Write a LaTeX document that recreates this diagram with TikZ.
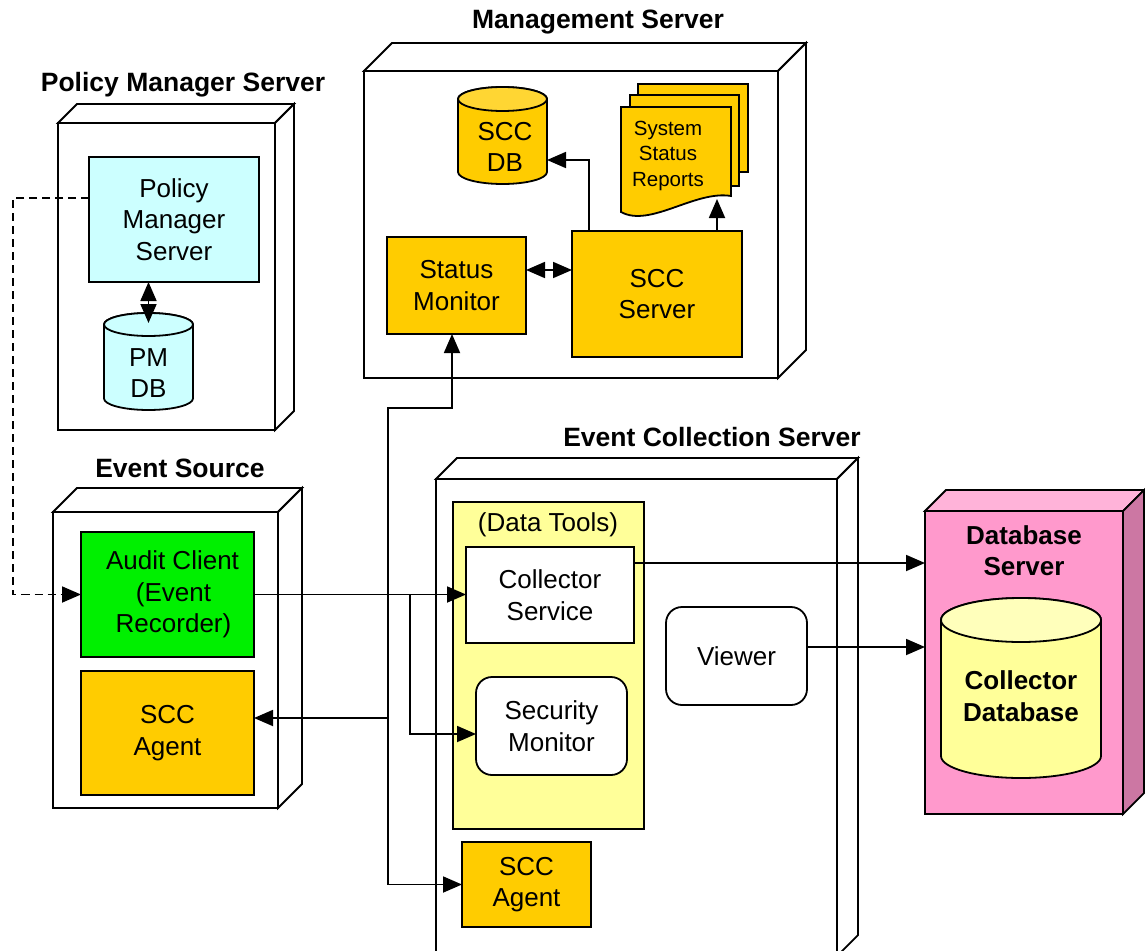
\documentclass[tikz,border=0pt]{standalone}
\usepackage{fontspec}
\setmainfont{Liberation Sans}
\usetikzlibrary{arrows.meta}

\definecolor{pmcyan}{HTML}{CCFFFF}
\definecolor{sccorange}{HTML}{FFCC00}
\definecolor{sccorangelid}{HTML}{FFD633}
\definecolor{auditgreen}{HTML}{00F000}
\definecolor{tooltint}{HTML}{FFFF99}
\definecolor{tooltintlid}{HTML}{FFFFBB}
\definecolor{dbpink}{HTML}{FF99CC}
\definecolor{dbpinktop}{HTML}{FFB3D9}
\definecolor{dbpinkside}{HTML}{CC77A3}

\newcommand\diagbody{\fontsize{26}{31.5}\selectfont}
\newcommand\diagtitle{\fontsize{26.5}{31}\selectfont\bfseries}
\newcommand\diagnote{\fontsize{20.5}{25.5}\selectfont}

\tikzset{
  boxline/.style={draw=black, line width=1.8pt, line join=miter},
  comp/.style={boxline, inner sep=0pt, outer sep=0pt, align=center, font=\diagbody},
  lbl/.style={inner sep=0pt, align=center, font=\diagbody},
  title/.style={inner sep=0pt, anchor=base, font=\diagtitle},
  tip/.style={Triangle[length=19pt,width=16pt]},
  conn/.style={draw=black, line width=1.8pt, -{Triangle[length=19pt,width=16pt]}},
  dblconn/.style={draw=black, line width=1.8pt, {Triangle[length=19pt,width=16pt]}-{Triangle[length=19pt,width=16pt]}},
}

% component box: name, x1, y1, x2, y2, extra style, text
\newcommand\comp[7]{%
  \node[comp, #6, minimum width={#4-#2}, minimum height={#5-#3}]
    (#1) at ({(#2+#4)/2},{(#3+#5)/2}) {#7};}

% 3-D server box: name, x1, y1, x2, y2, depth, front, top, side fill
\newcommand\server[9]{%
  \node[boxline, fill=#7, inner sep=0pt, outer sep=0pt,
        minimum width={#4-#2}, minimum height={#5-#3}]
    (#1) at ({(#2+#4)/2},{(#3+#5)/2}) {};
  \filldraw[boxline, fill=#8] (#1.north west) -- ++(#6,-#6) -- ++({#4-#2},0)
    -- (#1.north east) -- cycle;
  \filldraw[boxline, fill=#9] (#1.north east) -- ++(#6,-#6) -- ++(0,{#5-#3})
    -- (#1.south east) -- cycle;}

% upright cylinder: name, cx, top, bottom, rx, ry, body fill, lid fill
\newcommand\drum[8]{%
  \filldraw[boxline, fill=#7] ({#2-#5},{#3+#6}) -- ({#2-#5},{#4-#6})
    arc[start angle=180, end angle=360, x radius=#5pt, y radius=#6pt]
    -- ({#2+#5},{#3+#6})
    arc[start angle=0, end angle=180, x radius=#5pt, y radius=#6pt] -- cycle;
  \filldraw[boxline, fill=#8] ({#2},{#3+#6}) ellipse[x radius=#5pt, y radius=#6pt];
  \node[inner sep=0pt, outer sep=0pt, minimum width={2*#5}, minimum height={#4-#3}]
    (#1) at ({#2},{(#3+#4)/2}) {};}

\begin{document}
\begin{tikzpicture}[x=1pt, y=-1pt]
\useasboundingbox (0,0) rectangle (1145,950);

% ---------- Policy Manager Server ----------
\node[title] (t-pm) at (183,92) {Policy Manager Server};
\server{pmsrv}{58}{123}{275}{430}{19}{white}{white}{white}
\comp{pms}{89}{157}{259}{282}{fill=pmcyan}{Policy\\Manager\\Server}
\drum{pmdb}{148.5}{313}{410}{44.5}{11.5}{pmcyan}{pmcyan}
\node[lbl] (pmdb-t) at (148.5,373) {PM\\DB};

% ---------- Management Server ----------
\node[title] (t-mgmt) at (598,29) {Management Server};
\server{mgmt}{364}{71}{778}{378}{28}{white}{white}{white}
\drum{sccdb}{502.5}{87}{184}{44.5}{12}{sccorange}{sccorangelid}
\node[lbl] (sccdb-t) at (505,147) {SCC\\DB};

% stacked report sheets
\filldraw[boxline, fill=sccorange] (638,84) rectangle (748,172);
\filldraw[boxline, fill=sccorange] (630,95) rectangle (739,186);
\filldraw[boxline, fill=sccorange] (621,107) -- (731,107) -- (731,196)
  .. controls (695,190) and (650,228) .. (621,212) -- cycle;
\node[lbl, font=\diagnote] (reports) at (668,155.5) {System\\Status\\Reports};
\coordinate (rep-in) at (717,199);

\comp{status}{387}{237}{526}{334}{fill=sccorange}{Status\\Monitor}
\comp{scc}{572}{231}{742}{357}{fill=sccorange}{SCC\\Server}

% ---------- Event Source ----------
\node[title] (t-es) at (180,477) {Event Source};
\server{evsrc}{53}{512}{278}{808}{24}{white}{white}{white}
\comp{audit}{81}{532}{254}{657}{fill=auditgreen}{\hspace*{10pt}Audit Client\\\hspace*{12pt}(Event\\\hspace*{12pt}Recorder)}
\comp{agent1}{81}{671}{254}{795}{fill=sccorange}{SCC\\Agent}

% ---------- Event Collection Server ----------
\node[title] (t-ecs) at (712,446) {Event Collection Server};
\server{ecs}{436}{479}{837}{956}{21}{white}{white}{white}
\comp{tools}{453}{502}{644}{829}{fill=tooltint}{}
\node[lbl] (tools-t) at (548,525) {(Data Tools)};
\comp{coll}{466}{547}{634}{643}{fill=white}{Collector\\Service}
\comp{secmon}{476}{677}{627}{775}{fill=white, rounded corners=16pt}{Security\\Monitor}
\comp{viewer}{666}{607}{807}{705}{fill=white, rounded corners=16pt}{Viewer}
\comp{agent2}{462}{842}{591}{927}{fill=sccorange}{SCC\\Agent}

% ---------- Database Server ----------
\server{dbs}{925}{511}{1123}{814}{21}{dbpink}{dbpinktop}{dbpinkside}
\node[lbl, font=\diagbody\bfseries] (dbs-t) at (1024,550.5) {Database\\Server};
\drum{coldb}{1021}{598}{778}{80}{22}{tooltint}{tooltintlid}
\node[lbl, font=\diagbody\bfseries] (coldb-t) at (1021,696) {Collector\\Database};

% ---------- connectors ----------
\coordinate (pmdb-in) at ([yshift=-10pt]pmdb.north);
\draw[dblconn] (pmdb.north |- pms.south) -- (pmdb-in);

\draw[conn, dash pattern=on 8pt off 5pt] ([yshift=21.5pt]pms.west) -- ++(-76,0) |- (audit.west);

\coordinate (sm-r) at ([yshift=15.5pt]status.east);
\draw[dblconn] (sm-r) -- (sm-r -| scc.west);

\coordinate (db-in) at ([yshift=-24.5pt]sccdb.east);
\draw[conn] ([xshift=17pt]scc.north west) |- (db-in);
\draw[conn] (scc.north -| rep-in) -- (rep-in);

\coordinate (bus) at (388,408);
\draw[dblconn] ([xshift=-4.5pt]status.south) |- (bus) |- (agent2.west);
\coordinate (ag1-in) at ([yshift=15pt]agent1.east);
\draw[conn] (bus |- ag1-in) -- (ag1-in);

\draw[conn] (audit.east) -- (audit.east -| coll.west);
\coordinate (splitx) at (410,0);
\coordinate (split) at (splitx |- audit.east);
\draw[conn] (split) |- ([yshift=-8pt]secmon.west);

\coordinate (c-out) at ([yshift=32pt]coll.east);
\draw[conn] (c-out) -- (c-out -| dbs.west);
\coordinate (v-out) at ([yshift=9pt]viewer.east);
\draw[conn] (v-out) -- (v-out -| dbs.west);
\end{tikzpicture}
\end{document}
